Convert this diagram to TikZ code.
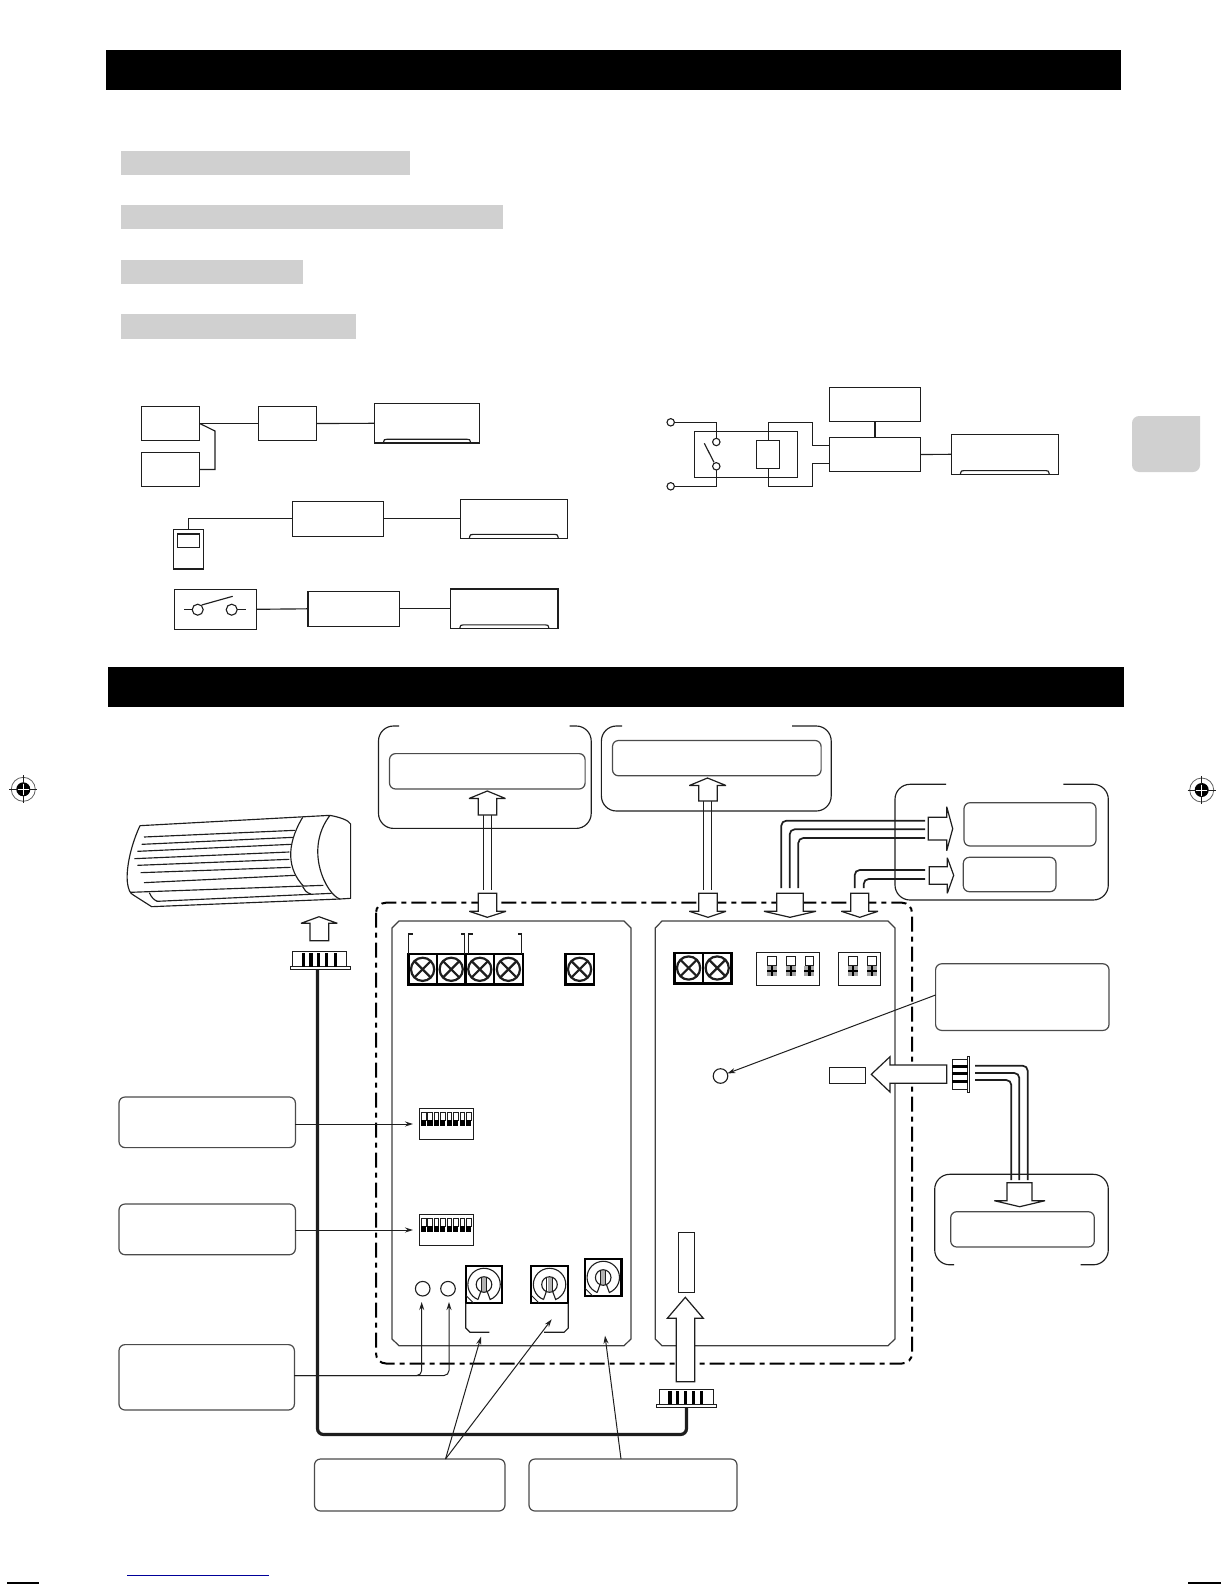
\documentclass[tikz,border=0pt]{standalone}
\usetikzlibrary{arrows.meta}
\definecolor{ink}{HTML}{1E1E1E}
\definecolor{barg}{HTML}{D0D0D0}
\tikzset{
  line/.style={draw=ink,line width=1.15pt},
  thinbox/.style={draw=ink,line width=1.15pt,fill=white},
  softbox/.style={draw=ink!80,line width=1.2pt,fill=white,rounded corners=6pt},
  hollow/.style={draw=ink,line width=1.2pt,fill=white,line join=miter,miter limit=3},
  wire/.style={draw=ink,line width=1.7pt,rounded corners=5pt},
  pointer/.style={draw=ink,line width=1pt,-{Stealth[length=8pt,width=5pt]}},
  blackbar/.style={fill=black,draw=none},
  graybar/.style={fill=barg,draw=none},
  pcb/.style={draw=ink!85,line width=1.2pt,fill=white},
}
\newcommand\bxn[6]{\node[#6,anchor=north west,inner sep=0pt,outer sep=0pt,minimum width={(#4-#2)*1pt},minimum height={(#5-#3)*1pt}] (#1) at (#2,#3) {};}
% unit: box with a shallow bump on the lower edge
\newcommand\acunit[5]{\bxn{#1}{#2}{#3}{#4}{#5}{thinbox}
  \draw[line] (#2+9,#5) .. controls (#2+10,#5-3.7) .. (#2+12.5,#5-3.7) -- (#4-12.5,#5-3.7) .. controls (#4-10,#5-3.7) .. (#4-9,#5);}
\newcommand\screw[2]{%
  \draw[black,line width=2.4pt] (#1-14.3,#2-15.3) rectangle (#1+14.3,#2+15.3);
  \draw[ink,line width=2.2pt] (#1,#2) circle (11.6);
  \draw[ink,line width=2.2pt] (#1-8,#2-8) -- (#1+8,#2+8) (#1-8,#2+8) -- (#1+8,#2-8);}
\newcommand\dipsw[2]{%
  \foreach \k in {0,...,7}{
    \pgfmathsetmacro\xx{#1+\k*6.43}
    \draw[ink,line width=.6pt,fill=white] (\xx,#2) rectangle (\xx+4.6,#2+8);
    \fill[black] (\xx-.3,#2+7.5) rectangle (\xx+4.9,#2+13.8);
  }}
\newcommand\pot[2]{%
  \draw[black,line width=2.2pt,fill=white] (#1-18.3,#2-18.8) rectangle (#1+18.3,#2+18.8);
  \draw[ink,line width=1.1pt] (#1-6,#2+15) arc[start angle=112,end angle=428,radius=16.2] -- (#1+3,#2+6.5);
  \draw[ink,line width=1.1pt] (#1-6,#2+15) -- (#1-3,#2+6.5);
  \fill[gray!60] (#1-2,#2-7.5) rectangle (#1+2,#2+7);
  \draw[ink,line width=1.1pt] (#1,#2) circle (7.8);
  \draw[ink,line width=.9pt] (#1-2.6,#2-7.5) -- (#1-2.6,#2+7) (#1+2.6,#2-7.5) -- (#1+2.6,#2+7);
  \draw[ink,line width=.9pt] (#1-18,#2+11) -- (#1-10.5,#2+18.5);}
\newcommand\darrow[5]{% cx shaftL shaftR wingL wingR
  \draw[hollow] (#2,893.3) -- (#3,893.3) -- (#3,911.3) -- (#5,911.3) -- (#1,917.3) -- (#4,911.3) -- (#2,911.3) -- cycle;}
\newcommand\regmark[2]{%
  \draw[ink!70,line width=.8pt] (#1,#2) circle (12);
  \fill[black] (#1,#2) circle (7);
  \draw[ink,line width=.8pt] (#1-14,#2) -- (#1+14,#2) (#1,#2-14) -- (#1,#2+14);
  \draw[white,line width=1pt] (#1-5.5,#2) -- (#1+5.5,#2) (#1,#2-5.5) -- (#1,#2+5.5);}
\begin{document}
\begin{tikzpicture}[x=1pt,y=-1pt]
\useasboundingbox (0,0) rectangle (1224,1584);
% header bars
\bxn{bar1}{106}{50.5}{1121}{90}{blackbar}
\bxn{bar2}{108}{667}{1124}{707}{blackbar}
\bxn{g1}{121}{150.5}{410}{175}{graybar}
\bxn{g2}{121}{205}{503}{229}{graybar}
\bxn{g3}{121}{259.6}{302.5}{284}{graybar}
\bxn{g4}{121}{314}{356}{338.5}{graybar}
\fill[barg,rounded corners=7pt] (1200,416) -- (1132,416) -- (1132,472) -- (1200,472) [sharp corners] -- cycle;
% page marks
\regmark{23.3}{789.3}
\regmark{1201.7}{790}
\draw[draw=blue!60!black,line width=1pt] (127,1575) -- (269,1575);
\draw[black,line width=1.6pt] (7,1583.2) -- (39,1583.2);
\draw[black,line width=1.6pt] (1188,1583.2) -- (1221,1583.2);

% ---- system diagram 1
\bxn{a1}{141.3}{406.3}{199.7}{440.7}{thinbox}
\bxn{a2}{141.3}{452.3}{199.7}{486.7}{thinbox}
\bxn{a3}{258.3}{406.3}{316.7}{440.7}{thinbox}
\acunit{au}{374.3}{403.6}{479.7}{443}
\draw[line] (a1.east) -- (a3.west);
\draw[line] (a3.east) -- (au.west);
\draw[line] (a1.east) -- (215,431) -- (215,469.5) -- (a2.east);
% ---- diagram 2
\bxn{rm}{173.3}{529.3}{203.7}{569}{thinbox}
\bxn{rs}{177.3}{534}{199.7}{547.3}{thinbox}
\bxn{b1}{292.3}{501.3}{383.7}{536.3}{thinbox}
\acunit{bu}{460.3}{499.5}{567.3}{538.1}
\draw[line] (rm.north) |- (b1.west);
\draw[line] (b1.east) -- (bu.west);
% ---- diagram 3
\bxn{sw}{174.3}{589.3}{256.7}{629.3}{thinbox}
\bxn{c1}{308}{591.3}{399.3}{626.3}{thinbox}
\acunit{cu}{450.7}{589}{558}{628.6}
\draw[line] (sw.east) -- (c1.west);
\draw[line] (c1.east) -- (cu.west);
\node[circle,draw=ink,line width=1.1pt,minimum size=11pt,inner sep=0pt,outer sep=0pt] (s1) at (197.7,609.7) {};
\node[circle,draw=ink,line width=1.1pt,minimum size=11pt,inner sep=0pt,outer sep=0pt] (s2) at (231.7,609.7) {};
\coordinate (s1l) at (184,609.7);
\coordinate (s2r) at (246,609.7);
\draw[line] (s1l) -- (s1.west);
\draw[line] (s2.east) -- (s2r);
\draw[line] (201.7,605) -- (232.7,596.3);
% ---- diagram 4
\bxn{d1}{829.3}{387.3}{920.7}{421.3}{thinbox}
\bxn{d2}{829.3}{437.3}{920.7}{471.7}{thinbox}
\acunit{du}{951.3}{434.3}{1058.3}{474.3}
\bxn{rel}{694.7}{431.3}{797.3}{477.3}{thinbox}
\bxn{coil}{756.7}{440.3}{779.7}{468.3}{thinbox}
\tikzset{term/.style={circle,draw=ink,line width=1.1pt,fill=white,minimum size=7.4pt,inner sep=0pt,outer sep=0pt}}
\node[term] (t1) at (670.7,422.3) {};
\node[term] (t2) at (670.7,486.3) {};
\node[term] (k1) at (716.3,442) {};
\node[term] (k2) at (716.3,466.3) {};
\draw[line] (t1.east) -| (k1.north);
\draw[line] (t2.east) -| (k2.south);
\draw[line] (704.3,443.3) -- (714,462.3);
\draw[line] (d1.south) -- (d2.north);
\draw[line] (d2.east) -- (du.west);
\draw[line] (coil.north) -- (768.2,422.3) -- (812.3,422.3) -- (812.3,445.7) -- (829.3,445.7);
\draw[line] (coil.south) -- (768.2,486.3) -- (812.3,486.3) -- (812.3,463.7) -- (829.3,463.7);

% ---- indoor unit drawing
\begin{scope}[xshift=110pt,yshift=-790pt,x=.33333pt,y=-.33333pt,line join=round]
 \draw[line] (90,107) -- (660,76) .. controls (690,82) and (715,90) .. (722,102) -- (722,325) -- (690,327)
   .. controls (650,315) and (580,180) .. (660,76);
 \draw[line] (90,107) .. controls (65,160) and (48,230) .. (52,275) .. controls (55,300) and (60,310) .. (70,315) -- (125,350) -- (690,327);
 \draw[line] (578,82) .. controls (525,170) and (535,240) .. (580,288);
 \draw[line] (102,141) -- (555,121) (95,163) -- (550,142) (82,184) -- (543,163) (73,206) -- (538,186)
   (82,226) -- (538,208) (92,248) -- (542,232) (102,278) -- (555,256);
 \draw[line] (60,307) -- (640,286);
 \draw[line] (140,334) -- (665,310);
 \draw[line] (118,308) .. controls (124,322) and (132,330) .. (142,334);
 \draw[line] (578,290) .. controls (582,300) and (590,308) .. (602,312);
\end{scope}
\draw[hollow] (319,916.7) -- (337.3,923.3) -- (328.7,923.3) -- (328.7,940.7) -- (310,940.7) -- (310,923.3) -- (301,923.3) -- cycle;
\bxn{cn1}{292.7}{951.7}{346.7}{966.7}{thinbox}
\bxn{cp1}{290.3}{966.7}{350.7}{969.9}{thinbox}
\foreach \x in {303.3,311,318.7,326.7,335.7}{\fill[black] (\x-1.7,953) rectangle (\x+1.7,966.7);}
\bxn{cn2}{659.3}{1389.3}{713.7}{1404.3}{thinbox}
\bxn{cp2}{656.3}{1404.3}{716.7}{1407.2}{thinbox}
\foreach \x in {670,677.7,685.3,693.3,701.7}{\fill[black] (\x-1.7,1390.5) rectangle (\x+1.7,1404.3);}
\draw[draw=ink,line width=3.2pt,rounded corners=6pt] (cp1.south) ++(-3,0) -- ++(0,464.6) -| (cp2.south);

% ---- main frame
\draw[draw=black,line width=2pt,rounded corners=10pt,dash pattern=on 15pt off 5pt on 5pt off 5pt] (376,902.7) rectangle (912,1363.5);
\draw[pcb] (392,928) -- (399,921) -- (624,921) -- (631,928) -- (631,1339) -- (624,1345.7) -- (399,1345.7) -- (392,1339) -- cycle;
\draw[pcb] (655.3,928) -- (662,921) -- (888,921) -- (895,928) -- (895,1339) -- (888,1345.7) -- (662,1345.7) -- (655.3,1339) -- cycle;

% screw terminals, left PCB
\screw{422.6}{969.3}
\screw{451.2}{969.3}
\screw{479.8}{969.3}
\screw{508.4}{969.3}
\screw{579.6}{969.3}
\draw[line] (408.7,954) -- (408.7,934) -- (412.7,934);
\draw[line] (464.7,954) -- (464.7,934) -- (460.7,934);
\draw[line] (468.7,954) -- (468.7,934) -- (472.7,934);
\draw[line] (521.7,954) -- (521.7,934) -- (517.7,934);
% screw terminals, right PCB
\screw{688.6}{968}
\screw{717.2}{968}
% terminal blocks with plus marks
\bxn{ter3}{756.3}{952.3}{819.7}{985.3}{thinbox}
\bxn{ter4}{838.3}{952.3}{880.7}{985.3}{thinbox}
\foreach \x in {772,791,809.3,852.7,871.7}{
  \draw[ink,line width=.8pt] (\x-4.3,956.7) rectangle (\x+4.3,965);
  \fill[gray!70] (\x-5,966) rectangle (\x+5,976);
  \fill[black] (\x-1.2,966) rectangle (\x+1.2,976);
  \fill[black] (\x-5,969.8) rectangle (\x+5,972.2);
}
% DIP switches
\bxn{dip1}{419.3}{1108.3}{473.7}{1139.3}{thinbox}
\bxn{dip2}{419.3}{1214.3}{473.7}{1245.3}{thinbox}
\dipsw{421.3}{1112.3}
\dipsw{421.3}{1218.3}
% pots
\pot{484}{1284.5}
\pot{549.5}{1284.5}
\pot{603.2}{1277.5}
\draw[line] (465.7,1303.3) -- (465.7,1328) -- (470,1332.3) -- (489.3,1332.3);
\draw[line] (568.3,1303.3) -- (568.3,1328) -- (564,1332.3) -- (544,1332.3);
% LEDs
\tikzset{led/.style={circle,draw=ink,line width=1.1pt,fill=white,minimum size=14.6pt,inner sep=0pt,outer sep=0pt}}
\node[led] (l1) at (422.7,1288.7) {};
\node[led] (l2) at (448,1288.7) {};
\node[led] (l3) at (720.5,1076) {};
% connector rect
\bxn{hdr}{678.3}{1232.7}{694.7}{1292.3}{thinbox}
\bxn{hdr2}{829.3}{1067.3}{865.7}{1083.3}{thinbox}

% ---- label boxes
\bxn{lb1}{119}{1097}{295.4}{1147.6}{softbox}
\bxn{lb2}{119}{1204}{295.4}{1254.7}{softbox}
\bxn{lb3}{119}{1344.6}{294.4}{1410}{softbox}
\bxn{lb4}{314.5}{1459}{505}{1511}{softbox}
\bxn{lb5}{529}{1459}{737}{1511}{softbox}
\bxn{lb6}{935.6}{963.8}{1109}{1030.4}{softbox}
\coordinate (p1) at (413,1124);
\coordinate (p2) at (413,1230);
\draw[pointer] (lb1.east |- p1) -- (p1);
\draw[pointer] (lb2.east |- p2) -- (p2);
\coordinate (lb3o) at (294.4,1375.5);
\draw[pointer,rounded corners=5pt] (lb3o) -- (421.7,1375.5) -- (421.7,1302);
\draw[pointer,rounded corners=5pt] (lb3o) -- (449,1375.5) -- (449,1302);
\coordinate (lb4o) at (445.5,1459);
\coordinate (lb5o) at (621,1459);
\coordinate (lb6o) at (935.6,995);
\draw[pointer] (lb4o) -- (481,1336.7);
\draw[pointer] (lb4o) -- (551.7,1319.3);
\draw[pointer] (lb5o) -- (605,1335.7);
\draw[pointer] (lb6o) -- (l3);

% ---- option groups
\draw[line,rounded corners=15pt] (569.6,726) -- (591.2,726) -- (591.2,828.4) -- (378.5,828.4) -- (378.5,726) -- (399,726);
\bxn{in1}{389.5}{753.6}{585.1}{789}{softbox}
\draw[line,rounded corners=15pt] (792,726) -- (831.2,726) -- (831.2,811) -- (601.4,811) -- (601.4,726) -- (622,726);
\bxn{in2}{612.5}{740.5}{821.1}{775.8}{softbox}
\draw[line,rounded corners=15pt] (1063.3,784.3) -- (1108.3,784.3) -- (1108.3,900) -- (895,900) -- (895,784.3) -- (946,784.3);
\bxn{in3}{964}{802.7}{1096}{846}{softbox}
\bxn{in4}{963.3}{857.3}{1056}{891.7}{softbox}
\draw[line,rounded corners=15pt] (954,1264.8) -- (934.7,1264.8) -- (934.7,1174.3) -- (1108.3,1174.3) -- (1108.3,1264.8) -- (1080.7,1264.8);
\bxn{in5}{950.7}{1211.7}{1094.3}{1247}{softbox}

% double lines to the group arrows
\draw[line] (483.5,815) -- (483.5,890) (491.5,815) -- (491.5,890);
\draw[line] (703.5,801) -- (703.5,890) (711.5,801) -- (711.5,890);
% up arrows
\draw[hollow] (487.3,791) -- (505.5,798.5) -- (496.7,798.5) -- (496.7,815) -- (478.3,815) -- (478.3,798.5) -- (469,798.5) -- cycle;
\draw[hollow] (707.5,778) -- (726,785.5) -- (717.3,785.5) -- (717.3,801) -- (698.7,801) -- (698.7,785.5) -- (689.3,785.5) -- cycle;
% wires to group 3
\draw[wire] (925,820.7) -- (781.3,820.7) -- (781.3,888);
\draw[wire] (925,829.3) -- (789.7,829.3) -- (789.7,888);
\draw[wire] (925,838) -- (798.3,838) -- (798.3,888);
\draw[wire] (925,870) -- (854.7,870) -- (854.7,888);
\draw[wire] (925,879) -- (863.7,879) -- (863.7,888);
% right arrows
\draw[hollow] (952.7,828.7) -- (946.7,850.7) -- (946.7,840) -- (928.3,840) -- (928.3,817.3) -- (946.7,817.3) -- (946.7,806.7) -- cycle;
\draw[hollow] (953.7,875.3) -- (947.3,893.3) -- (947.3,884.3) -- (929.3,884.3) -- (929.3,866.7) -- (947.3,866.7) -- (947.3,857.7) -- cycle;
% down arrows into frame
\darrow{487.3}{478.3}{496.7}{469.3}{506}
\darrow{708}{698.7}{717.3}{689.3}{726}
\darrow{790}{776.7}{803.3}{764}{816}
\darrow{859.7}{850.7}{868.7}{841.3}{878}
% up arrow into right PCB
\draw[hollow] (685.3,1297.3) -- (703.3,1318.3) -- (694.7,1318.3) -- (694.7,1381.7) -- (676.3,1381.7) -- (676.3,1318.3) -- (667.3,1318.3) -- cycle;
% left arrow
\draw[hollow] (871.3,1074.3) -- (890,1056.7) -- (890,1065) -- (946.7,1065) -- (946.7,1083.3) -- (890,1083.3) -- (890,1092) -- cycle;
% side connector
\bxn{cn3}{952.3}{1059.3}{967.7}{1089.3}{thinbox}
\bxn{cp3}{967.7}{1056.7}{969.9}{1092.3}{thinbox}
\foreach \y in {1066.7,1073.7,1081.7}{\fill[black] (952.3,\y-1.7) rectangle (967.7,\y+1.7);}
\draw[wire] (975,1065.7) -- (1027.7,1065.7) -- (1027.7,1180);
\draw[wire] (975,1073) -- (1019.3,1073) -- (1019.3,1180);
\draw[wire] (975,1080) -- (1011.3,1080) -- (1011.3,1180);
% down arrow to group 5
\draw[hollow] (1007,1182.7) -- (1032,1182.7) -- (1032,1200.7) -- (1045,1200.7) -- (1019.7,1206.7) -- (994.3,1200.7) -- (1007,1200.7) -- cycle;
\end{tikzpicture}
\end{document}
